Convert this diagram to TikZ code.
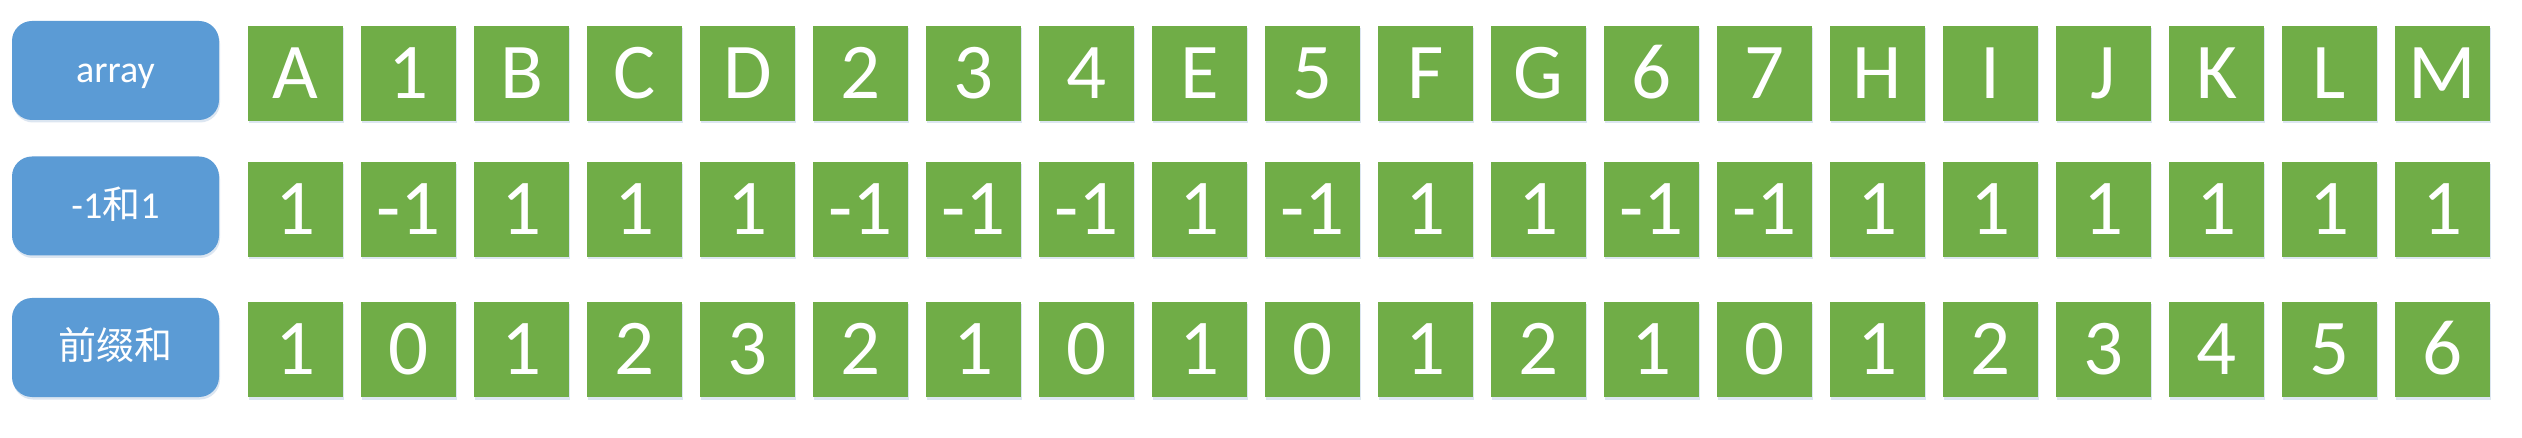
\documentclass[tikz,border=0pt]{standalone}
\usepackage{fontspec}
\setmainfont{Carlito}
\newfontfamily\cjk{Noto Sans CJK SC}
\usetikzlibrary{shadows}
\definecolor{lblblue}{HTML}{5B9BD5}
\definecolor{cellgreen}{HTML}{70AD47}
\definecolor{shadowcol}{HTML}{9DB8D8}
\begin{document}
\begin{tikzpicture}[x=1pt,y=-1pt,
  softshadow/.style={drop shadow={shadow xshift=1pt, shadow yshift=-2.5pt, opacity=0.35, fill=shadowcol}},
  lbl/.style={rectangle, rounded corners=20pt, fill=lblblue, text=white,
    minimum width=207pt, minimum height=99pt, inner sep=0pt,
    font=\fontsize{38}{40}\selectfont, text height=24.3pt, text depth=0pt, softshadow},
  cell/.style={rectangle, fill=cellgreen, text=white, minimum size=95pt, inner sep=0pt,
    font=\fontsize{79}{80}\selectfont, text height=50.5pt, text depth=0pt, softshadow}]
\useasboundingbox[fill=white] (0,0) rectangle (2522,438);
\node[lbl] (l1) at (115.5,70.5) {array};
\node[lbl] (l2) at (115.5,206) {-1{\cjk 和}1};
\node[lbl] (l3) at (115.5,347.5) {\cjk 前缀和};
\foreach \t [count=\i from 0] in {A,1,B,C,D,2,3,4,E,5,F,G,6,7,H,I,J,K,L,M}
  \node[cell] (r1c\i) at (295.5+113*\i,73.5) {\t};
\foreach \t [count=\i from 0] in {1,-1,1,1,1,-1,-1,-1,1,-1,1,1,-1,-1,1,1,1,1,1,1}
  \node[cell] (r2c\i) at (295.5+113*\i,209.5) {\t};
\foreach \t [count=\i from 0] in {1,0,1,2,3,2,1,0,1,0,1,2,1,0,1,2,3,4,5,6}
  \node[cell] (r3c\i) at (295.5+113*\i,349.5) {\t};
\end{tikzpicture}
\end{document}
